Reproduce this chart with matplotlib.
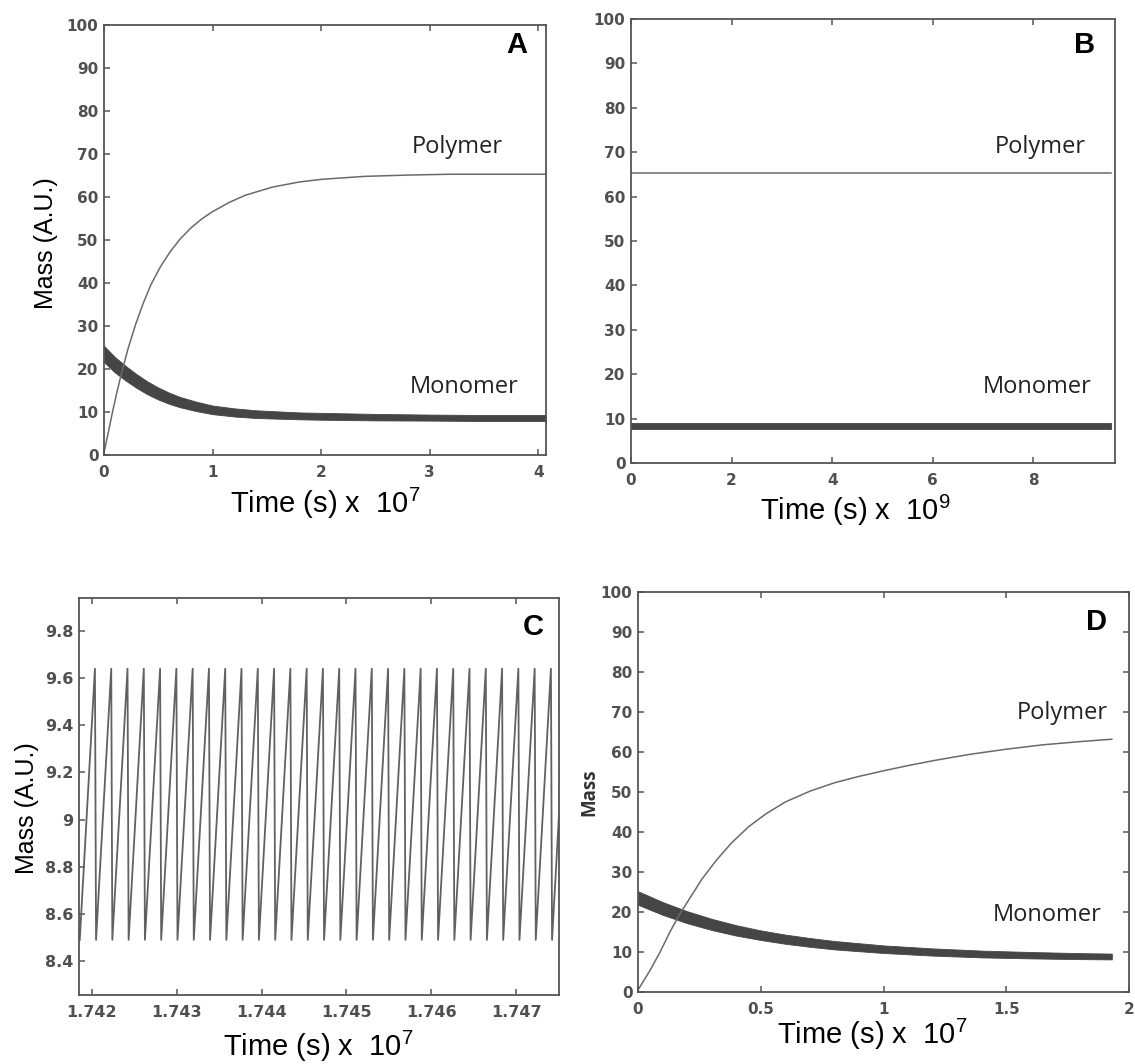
## Four panel figure: monomer / polymer mass against time (panels A-D)

import numpy as np
import matplotlib
matplotlib.use("Agg")
import matplotlib.pyplot as plt

# Figure size in pixels
W, H = 1135, 1064

# Colors
SPINE_COLOR = "#555555"
TICK_TEXT_COLOR = "#505050"
POLYMER_COLOR = "#6a6a6a"
MONOMER_COLOR = "#454545"
LABEL_COLOR = "#222222"

plt.rcParams["mathtext.fontset"] = "custom"
plt.rcParams["mathtext.rm"] = "Liberation Sans"
plt.rcParams["mathtext.it"] = "Liberation Sans:italic"
plt.rcParams["mathtext.bf"] = "Liberation Sans:bold"

# ---- Panel A data (time in 1e7 s) ----
a_poly_t = [0, 0.04, 0.08, 0.12, 0.16, 0.22, 0.29, 0.36, 0.43, 0.52, 0.61, 0.7, 0.8,
            0.9, 1.0, 1.15, 1.3, 1.55, 1.8, 2.0, 2.4, 2.8, 3.2, 3.6, 4.07]
a_poly_y = [0.5, 5.3, 10.2, 14.7, 18.9, 24.6, 30.3, 35.2, 39.5, 43.8, 47.3, 50.2, 52.8,
            54.9, 56.6, 58.7, 60.4, 62.3, 63.5, 64.1, 64.8, 65.1, 65.3, 65.3, 65.3]
a_mono_t = [0, 0.1, 0.2, 0.3, 0.4, 0.5, 0.6, 0.7, 0.85, 1.0, 1.2, 1.4, 1.6, 1.8, 2.0,
            2.5, 3.0, 3.5, 4.07]
a_mono_hi = [25.4, 22.8, 20.7, 18.8, 17.1, 15.7, 14.5, 13.5, 12.4, 11.5, 10.85, 10.4,
             10.15, 9.9, 9.8, 9.55, 9.4, 9.3, 9.3]
a_mono_lo = [21.6, 19.2, 17.3, 15.6, 14.1, 12.9, 11.9, 11.1, 10.2, 9.5, 8.95, 8.6,
             8.45, 8.3, 8.2, 8.05, 8.0, 7.9, 7.9]

# ---- Panel B data (time in 1e9 s) ----
b_t = [0, 9.54]
b_poly_y = [65.4, 65.4]
b_mono_hi = [8.95, 8.95]
b_mono_lo = [7.55, 7.55]

# ---- Panel C data (time in 1e7 s), sawtooth vertices ----
c_peak_t = [1.742035, 1.742227, 1.742419, 1.742611, 1.742803, 1.742995, 1.743187,
            1.743379, 1.743571, 1.743763, 1.743955, 1.744147, 1.744339, 1.744531,
            1.744723, 1.744915, 1.745107, 1.745299, 1.745491, 1.745683, 1.745875,
            1.746067, 1.746259, 1.746451, 1.746643, 1.746835, 1.747027, 1.747219,
            1.747411]
c_trough_t = [1.742048, 1.742240, 1.742432, 1.742624, 1.742816, 1.743008, 1.743200,
              1.743392, 1.743584, 1.743776, 1.743968, 1.744160, 1.744352, 1.744544,
              1.744736, 1.744928, 1.745120, 1.745312, 1.745504, 1.745696, 1.745888,
              1.746080, 1.746272, 1.746464, 1.746656, 1.746848, 1.747040, 1.747232,
              1.747424]
c_peak_y = 9.64
c_trough_y = 8.49
c_start = (1.741856, 8.49)
c_end = (1.747506, 9.02)
c_yticks = [8.4, 8.6, 8.8, 9.0, 9.2, 9.4, 9.6, 9.8]
c_yticklabels = ["8.4", "8.6", "8.8", "9", "9.2", "9.4", "9.6", "9.8"]
c_xticks = [1.742, 1.743, 1.744, 1.745, 1.746, 1.747]
c_xticklabels = ["1.742", "1.743", "1.744", "1.745", "1.746", "1.747"]

# ---- Panel D data (time in 1e7 s) ----
d_poly_t = [0, 0.05, 0.09, 0.13, 0.17, 0.22, 0.26, 0.32, 0.38, 0.45, 0.52, 0.6, 0.7,
            0.8, 0.9, 1.0, 1.1, 1.2, 1.35, 1.5, 1.65, 1.8, 1.93]
d_poly_y = [0.5, 5.5, 10, 15, 19.5, 24.3, 28.2, 33, 37.2, 41.3, 44.5, 47.5, 50.2,
            52.3, 53.9, 55.3, 56.6, 57.8, 59.4, 60.7, 61.8, 62.6, 63.2]
d_mono_t = [0, 0.1, 0.2, 0.3, 0.4, 0.5, 0.6, 0.7, 0.8, 0.9, 1.0, 1.2, 1.4, 1.6, 1.8, 1.93]
d_mono_hi = [25.2, 22.5, 20.2, 18.3, 16.7, 15.4, 14.35, 13.5, 12.75, 12.2, 11.65, 10.9,
             10.35, 10.0, 9.72, 9.6]
d_mono_lo = [21.8, 19.3, 17.2, 15.5, 14.1, 13.0, 12.05, 11.3, 10.65, 10.2, 9.75, 9.1,
             8.65, 8.4, 8.22, 8.15]
d_xticks = [0, 0.5, 1, 1.5, 2]
d_xticklabels = ["0", "0.5", "1", "1.5", "2"]

mass_ticks = list(range(0, 101, 10))


def rect(left, top, right, bottom):
    """Axes rectangle from pixel edges"""
    return [left / W, 1 - bottom / H, (right - left) / W, (bottom - top) / H]


def style_axes(ax, tick_size, right_ticks=False):
    for s in ax.spines.values():
        s.set_color(SPINE_COLOR)
        s.set_linewidth(1.3)
    ax.tick_params(direction="in", top=True, right=right_ticks, length=4, width=1.1,
                   color=SPINE_COLOR, labelcolor=TICK_TEXT_COLOR, labelsize=tick_size)
    ax.tick_params(axis="x", pad=7)
    ax.tick_params(axis="y", pad=4)
    for lab in ax.get_xticklabels() + ax.get_yticklabels():
        lab.set_family("DejaVu Sans")
        lab.set_weight("bold")


def panel_letter(ax, letter, x, y):
    ax.text(x, y, letter, transform=ax.transAxes, ha="center", va="center",
            fontsize=21, fontweight="bold", family="Liberation Sans", color="black")


def curve_label(ax, x, y, text):
    ax.text(x, y, text, ha="center", va="center", fontsize=17, family="Open Sans",
            color=LABEL_COLOR)


def time_label(fig, x, y, power):
    fig.text(x / W, 1 - y / H, "Time (s) x  10$^{%d}$" % power, ha="center", va="center",
             fontsize=21, family="Liberation Sans", color="black")


def mass_panel(ax, poly_t, poly_y, mono_t, mono_hi, mono_lo):
    ax.plot(poly_t, poly_y, color=POLYMER_COLOR, lw=1.1)
    ax.fill_between(mono_t, mono_lo, mono_hi, color=MONOMER_COLOR, lw=0.6,
                    edgecolor=MONOMER_COLOR)
    ax.set_ylim(0, 100)
    ax.set_yticks(mass_ticks)


fig = plt.figure(figsize=(W / 100, H / 100), dpi=100)

# Panel A
ax_a = fig.add_axes(rect(104, 25, 546, 455))
mass_panel(ax_a, a_poly_t, a_poly_y, a_mono_t, a_mono_hi, a_mono_lo)
ax_a.set_xlim(0, 4.07)
ax_a.set_xticks([0, 1, 2, 3, 4])
style_axes(ax_a, 11)
curve_label(ax_a, 3.25, 71.7, "Polymer")
curve_label(ax_a, 3.32, 15.7, "Monomer")
panel_letter(ax_a, "A", 0.934, 0.953)
fig.text(46 / W, 1 - 243 / H, "Mass (A.U.)", rotation=90, ha="center", va="center",
         fontsize=18, family="Liberation Sans")
time_label(fig, 325, 503, 7)

# Panel B
ax_b = fig.add_axes(rect(631, 19, 1115, 463))
mass_panel(ax_b, b_t, b_poly_y, b_t, b_mono_hi, b_mono_lo)
ax_b.set_xlim(0, 9.62)
ax_b.set_xticks([0, 2, 4, 6, 8])
style_axes(ax_b, 11)
curve_label(ax_b, 8.14, 71.2, "Polymer")
curve_label(ax_b, 8.08, 17.1, "Monomer")
panel_letter(ax_b, "B", 0.938, 0.941)
time_label(fig, 855, 510, 9)

# Panel C
ax_c = fig.add_axes(rect(79, 598, 559, 995))
c_x = [c_start[0]]
c_y = [c_start[1]]
for tp, tt in zip(c_peak_t, c_trough_t):
    c_x += [tp, tt]
    c_y += [c_peak_y, c_trough_y]
c_x.append(c_end[0])
c_y.append(c_end[1])
ax_c.plot(c_x, c_y, color="#616161", lw=1.3)
ax_c.set_xlim(1.741847, 1.747506)
ax_c.set_ylim(8.256, 9.94)
ax_c.set_xticks(c_xticks)
ax_c.set_xticklabels(c_xticklabels)
ax_c.set_yticks(c_yticks)
ax_c.set_yticklabels(c_yticklabels)
style_axes(ax_c, 11.5)
panel_letter(ax_c, "C", 0.946, 0.927)
fig.text(27 / W, 1 - 808 / H, "Mass (A.U.)", rotation=90, ha="center", va="center",
         fontsize=18, family="Liberation Sans")
time_label(fig, 318, 1046, 7)

# Panel D
ax_d = fig.add_axes(rect(638, 592, 1129, 992))
mass_panel(ax_d, d_poly_t, d_poly_y, d_mono_t, d_mono_hi, d_mono_lo)
ax_d.set_xlim(0, 2)
ax_d.set_xticks(d_xticks)
ax_d.set_xticklabels(d_xticklabels)
style_axes(ax_d, 11, right_ticks=True)
curve_label(ax_d, 1.727, 69.75, "Polymer")
curve_label(ax_d, 1.666, 19.25, "Monomer")
panel_letter(ax_d, "D", 0.933, 0.925)
fig.text(589 / W, 1 - 792 / H, "Mass", rotation=90, ha="center", va="center",
         fontsize=13.5, fontweight="bold", family="Open Sans", color="#333333")
time_label(fig, 872, 1034, 7)

fig.savefig("out.png", dpi=100, facecolor="white")
